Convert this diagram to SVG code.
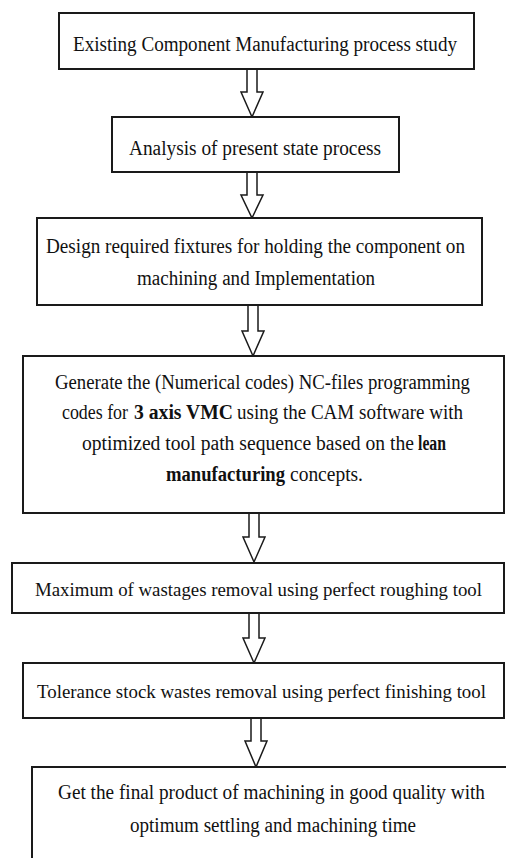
<svg xmlns="http://www.w3.org/2000/svg" width="506" height="858" viewBox="0 0 506 858">
<style>
.box{fill:#fff;stroke:#1a1a1a;stroke-width:2}
.t{font-family:"Liberation Serif","Times New Roman",serif;font-size:20px;fill:#111}
.s{font-size:19px}
.b{font-weight:bold}
.arr{fill:#fff;stroke:#1a1a1a;stroke-width:1.5;stroke-linejoin:miter}
</style>
<rect width="506" height="858" fill="#fff"/>
<g id="connectors">
<path class="arr" d="M247,69 V92 H241 L252,117 L263,92 H257 V69"/>
<path class="arr" d="M247,172 V195 H241 L252,218 L263,195 H257 V172"/>
<path class="arr" d="M248,305 V331 H242 L253,356 L264,331 H258 V305"/>
<path class="arr" d="M249,513 V537 H243 L254,562 L265,537 H259 V513"/>
<path class="arr" d="M249,613 V638 H243 L254,663 L265,638 H259 V613"/>
<path class="arr" d="M251,718 V741 H245 L256,767 L267,741 H261 V718"/>
</g>
<g id="n1">
<rect class="box" x="59" y="13" width="415" height="56"/>
<text class="t" x="73" y="51" textLength="384" lengthAdjust="spacingAndGlyphs">Existing Component Manufacturing process study</text>
</g>
<g id="n2">
<rect class="box" x="112" y="117" width="287" height="55"/>
<text class="t" x="129" y="155" textLength="252" lengthAdjust="spacingAndGlyphs">Analysis of present state process</text>
</g>
<g id="n3">
<rect class="box" x="37" y="218" width="445" height="87"/>
<text class="t" x="46" y="253" textLength="419" lengthAdjust="spacingAndGlyphs">Design required fixtures for holding the component on</text>
<text class="t" x="137" y="285" textLength="238" lengthAdjust="spacingAndGlyphs">machining and Implementation</text>
</g>
<g id="n4">
<rect class="box" x="23" y="356" width="481" height="157"/>
<text class="t" x="55" y="389" textLength="415" lengthAdjust="spacingAndGlyphs">Generate the (Numerical codes) NC-files programming</text>
<text class="t" x="62" y="419" textLength="66" lengthAdjust="spacingAndGlyphs">codes for</text>
<text class="t b" x="134" y="419" textLength="99" lengthAdjust="spacingAndGlyphs">3 axis VMC</text>
<text class="t" x="237" y="419" textLength="226" lengthAdjust="spacingAndGlyphs">using the CAM software with</text>
<text class="t" x="82" y="450" textLength="332" lengthAdjust="spacingAndGlyphs">optimized tool path sequence based on the</text>
<text class="t b" x="418" y="450" textLength="28" lengthAdjust="spacingAndGlyphs">lean</text>
<text class="t b" x="166" y="481" textLength="119" lengthAdjust="spacingAndGlyphs">manufacturing</text>
<text class="t" x="290" y="481" textLength="73" lengthAdjust="spacingAndGlyphs">concepts.</text>
</g>
<g id="n5">
<rect class="box" x="12" y="563" width="492" height="50"/>
<text class="t s" x="35" y="596" textLength="447" lengthAdjust="spacingAndGlyphs">Maximum of wastages removal using perfect roughing tool</text>
</g>
<g id="n6">
<rect class="box" x="23" y="663" width="481" height="55"/>
<text class="t s" x="37" y="698" textLength="449" lengthAdjust="spacingAndGlyphs">Tolerance stock wastes removal using perfect finishing tool</text>
</g>
<g id="n7">
<rect class="box" x="32" y="767" width="490" height="110"/>
<text class="t" x="58" y="799" textLength="427" lengthAdjust="spacingAndGlyphs">Get the final product of machining in good quality with</text>
<text class="t" x="130" y="832" textLength="286" lengthAdjust="spacingAndGlyphs">optimum settling and machining time</text>
</g>
</svg>
